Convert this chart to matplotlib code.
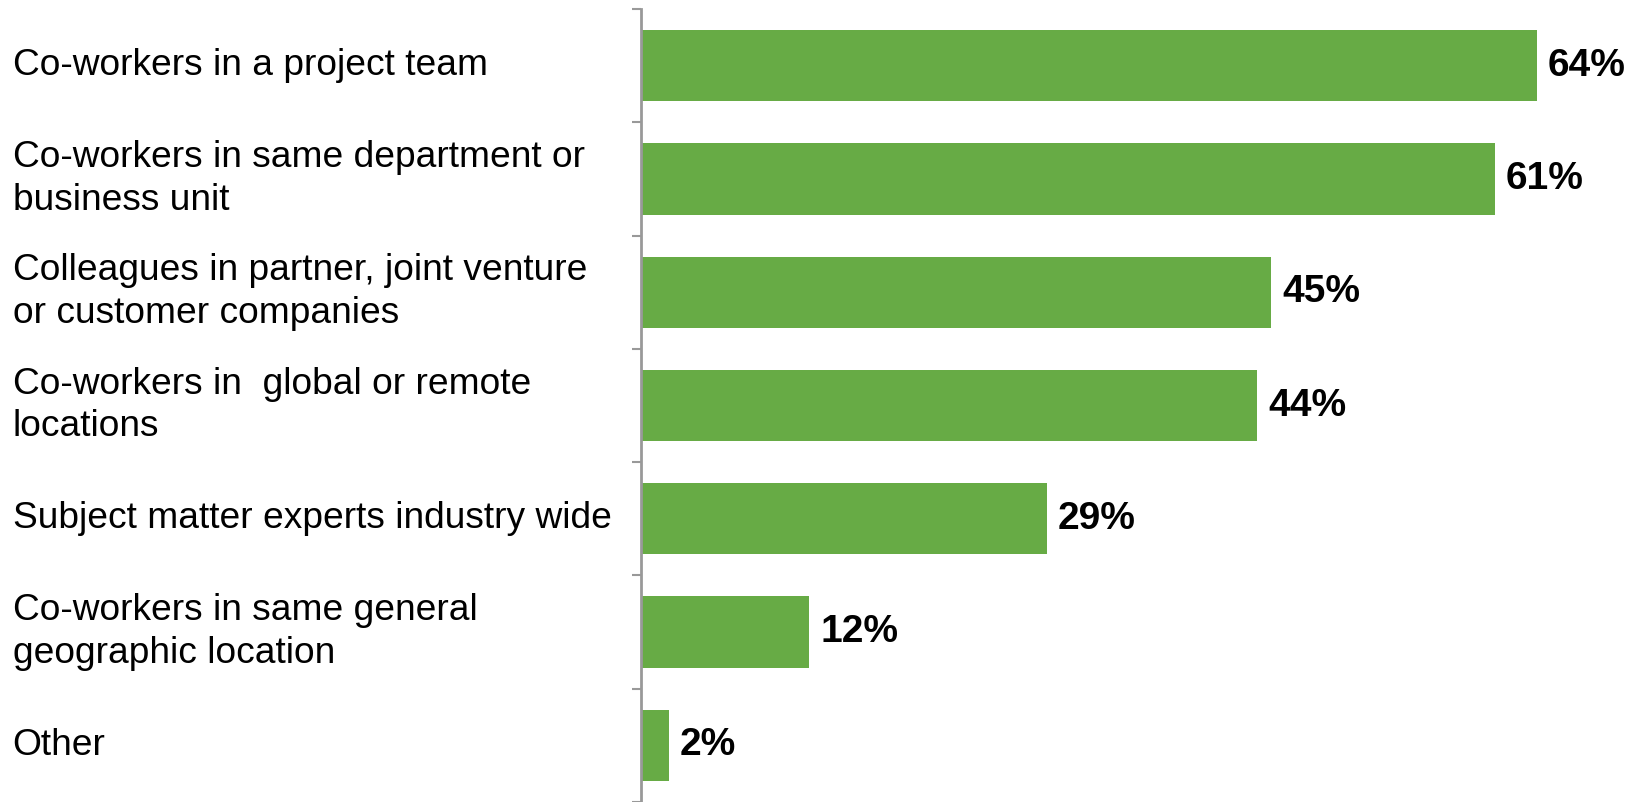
import matplotlib.pyplot as plt
import matplotlib.transforms as mtransforms
import numpy as np

categories = [
    'Co-workers in a project team',
    'Co-workers in same department or\nbusiness unit',
    'Colleagues in partner, joint venture\nor customer companies',
    'Co-workers in  global or remote\nlocations',
    'Subject matter experts industry wide',
    'Co-workers in same general\ngeographic location',
    'Other',
]
values = [64, 61, 45, 44, 29, 12, 2]

plt.rcParams['font.family'] = ['Liberation Sans', 'DejaVu Sans']

fig = plt.figure(figsize=(16.35, 8.02), dpi=100)
ax = fig.add_axes([641 / 1635, 0.0, 1 - 641 / 1635, 1 - 9 / 802])

ind = np.arange(len(categories))
ax.barh(ind, values, height=0.63, color='#67AB45', edgecolor='none')

ax.set_ylim(len(categories) - 0.5, -0.5)
ax.set_xlim(0, 71)

# ticks sit on the boundaries between categories
ax.set_yticks(np.arange(len(categories) + 1) - 0.5)
ax.set_yticklabels([])
ax.tick_params(axis='y', length=6.5, width=1.5, color='#999999')
ax.set_xticks([])
for side in ['top', 'right', 'bottom']:
  ax.spines[side].set_visible(False)
ax.spines['left'].set_color('#999999')
ax.spines['left'].set_linewidth(2)

# category labels, left aligned at figure edge
trans = mtransforms.blended_transform_factory(fig.transFigure, ax.transData)
for i, cat in enumerate(categories):
  ax.text(12.5 / 1635, i, cat, transform=trans, ha='left', va='center',
          fontsize=26.7, linespacing=1.28, color='black')

# value labels
for i, v in enumerate(values):
  ax.annotate('%d%%' % v, xy=(v, i), xytext=(11, 0), textcoords='offset pixels',
              ha='left', va='center', fontsize=28, fontweight='bold')

fig.savefig('out.png', dpi=100)
